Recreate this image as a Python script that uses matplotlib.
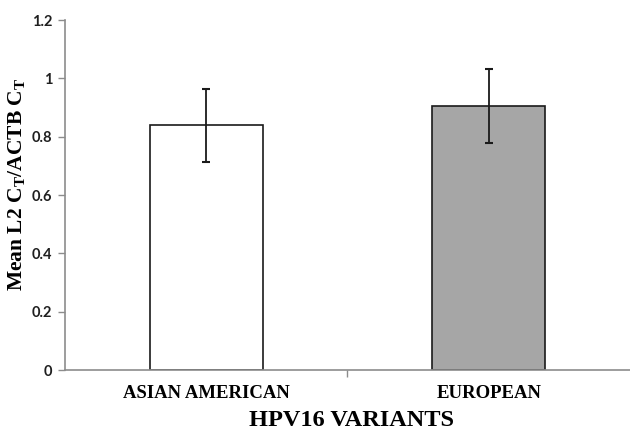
import matplotlib
matplotlib.use("Agg")
import matplotlib.pyplot as plt

# mean ratio per variant with standard error
variants = ["ASIAN AMERICAN", "EUROPEAN"]
means = [0.84, 0.905]
errors = [0.125, 0.127]
fills = ["white", "#a6a6a6"]
y_ticks = [0, 0.2, 0.4, 0.6, 0.8, 1, 1.2]
y_tick_labels = ["0", "0.2", "0.4", "0.6", "0.8", "1", "1.2"]

AXIS_GREY = "#8c8c8c"
SERIF = ["Liberation Serif", "DejaVu Serif"]

fig = plt.figure(figsize=(6.3, 4.36), dpi=100)
ax = fig.add_axes([0.103, 0.151, 0.897, 0.803])

x = range(len(variants))
ax.bar(x, means, width=0.4, color=fills, edgecolor="#1a1a1a", linewidth=1.2, zorder=2)
ax.errorbar(x, means, yerr=errors, fmt="none", ecolor="#1a1a1a",
            elinewidth=1.3, capsize=3, capthick=1.5, zorder=3)

ax.set_xlim(-0.5, 1.5)
ax.set_ylim(0, 1.2)

# y axis
ax.set_yticks(y_ticks)
ax.set_yticklabels(y_tick_labels, fontsize=10.5, fontweight="bold",
                   family=["Lato", "DejaVu Sans"], color="#1f1f1f")
ax.tick_params(axis="y", direction="out", length=5, width=1, color=AXIS_GREY, pad=4)

# x axis: only the divider tick between categories, labels placed by hand
ax.set_xticks([0.5])
ax.set_xticklabels([""])
ax.tick_params(axis="x", direction="out", length=5, width=1, color=AXIS_GREY)
for i, name in enumerate(variants):
    ax.text(i, -0.043, name, transform=ax.get_xaxis_transform(), ha="center", va="top",
            fontsize=13.5, fontweight="bold", family=SERIF)

ax.set_xlabel("HPV16 VARIANTS", fontsize=17.5, fontweight="bold", family=SERIF)
ax.xaxis.set_label_coords(0.508, -0.115)
ax.set_ylabel("Mean L2 C$_\\mathregular{T}$/ACTB C$_\\mathregular{T}$", fontsize=15.5,
              fontweight="bold", family=SERIF)
ax.yaxis.set_label_coords(-0.066, 0.53)

for side in ["top", "right"]:
    ax.spines[side].set_visible(False)
for side in ["left", "bottom"]:
    ax.spines[side].set_color(AXIS_GREY)
    ax.spines[side].set_linewidth(1.2)

fig.savefig("out.png", dpi=100, facecolor="white")
